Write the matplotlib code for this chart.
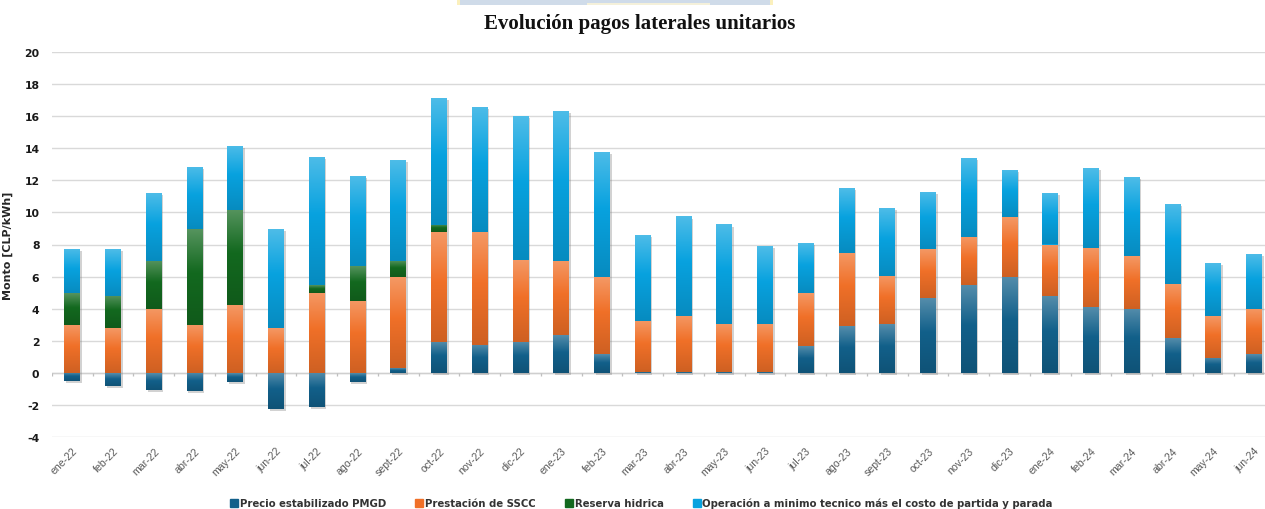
import numpy as np
import matplotlib
matplotlib.use("Agg")
import matplotlib.pyplot as plt
from matplotlib.colors import to_rgb
from matplotlib.patches import Rectangle
from matplotlib.lines import Line2D
import matplotlib.patheffects as pe

plt.rcParams["axes.unicode_minus"] = False

months = ["ene-22", "feb-22", "mar-22", "abr-22", "may-22", "jun-22", "jul-22",
          "ago-22", "sept-22", "oct-22", "nov-22", "dic-22", "ene-23", "feb-23",
          "mar-23", "abr-23", "may-23", "jun-23", "jul-23", "ago-23", "sept-23",
          "oct-23", "nov-23", "dic-23", "ene-24", "feb-24", "mar-24", "abr-24",
          "may-24", "jun-24"]

precio_pmgd = [-0.5, -0.8, -1.05, -1.15, -0.55, -2.25, -2.15, -0.55, 0.3, 1.95,
               1.75, 1.95, 2.35, 1.15, 0.05, 0.05, 0.05, 0.05, 1.65, 2.9,
               3.05, 4.65, 5.45, 6.0, 4.8, 4.1, 4.0, 2.15, 0.95, 1.15]
sscc = [3.0, 2.8, 4.0, 3.0, 4.2, 2.8, 5.0, 4.5, 5.65, 6.8,
        7.0, 5.1, 4.65, 4.8, 3.2, 3.5, 3.0, 3.0, 3.3, 4.6,
        3.0, 3.05, 3.0, 3.7, 3.2, 3.7, 3.3, 3.4, 2.6, 2.85]
reserva = [1.95, 2.0, 3.0, 5.95, 5.95, 0.0, 0.45, 2.15, 1.05, 0.47,
           0, 0, 0, 0, 0, 0, 0, 0, 0, 0,
           0, 0, 0, 0, 0, 0, 0, 0, 0, 0]
operacion = [2.75, 2.9, 4.2, 3.9, 4.0, 6.15, 8.0, 5.6, 6.25, 7.9,
             7.8, 8.95, 9.35, 7.8, 5.35, 6.2, 6.2, 4.85, 3.15, 4.0,
             4.2, 3.6, 4.95, 2.95, 3.2, 4.95, 4.9, 5.0, 3.3, 3.4]

series_names = ["Precio estabilizado PMGD", "Prestación de SSCC", "Reserva hidrica",
                "Operación a minimo tecnico más el costo de partida y parada"]
colors = ["#12608a", "#f07028", "#13691f", "#08a2df"]

W, H = 1265, 510
fig = plt.figure(figsize=(W / 100, H / 100), dpi=100)
fig.patch.set_facecolor("white")

ax = fig.add_axes([52 / W, 1 - 438 / H, (W - 52) / W, (438 - 53) / H])
x = np.arange(len(months))
bw = 0.39

def gradient_fill(bar, color):
    x0, y0 = bar.get_x(), bar.get_y()
    w, h = bar.get_width(), bar.get_height()
    if abs(h) < 1e-9:
        return
    base = np.array(to_rgb(color))
    dark = base * 0.86
    light = base + (1 - base) * 0.28
    t = np.linspace(0, 1, 80)[:, None]
    lower = dark + (base - dark) * (t / 0.55)
    upper = base + (light - base) * ((t - 0.55) / 0.45)
    grad = np.where(t < 0.55, lower, upper)
    img = np.repeat(grad[:, None, :], 2, axis=1)
    im = ax.imshow(img, extent=[x0, x0 + w, min(y0, y0 + h), max(y0, y0 + h)],
                   origin="lower", aspect="auto", interpolation="bilinear",
                   zorder=bar.get_zorder() + 0.1)
    im.set_clip_path(bar)

shadow = [pe.SimplePatchShadow(offset=(1.2, -1.5), shadow_rgbFace="#7f7f7f", alpha=0.35),
          pe.Normal()]

pm = np.array(precio_pmgd)
base_pos = np.maximum(pm, 0)
bottoms = [np.zeros(len(x)), base_pos,
           base_pos + np.array(sscc),
           base_pos + np.array(sscc) + np.array(reserva)]
values = [pm, np.array(sscc), np.array(reserva), np.array(operacion)]

for vals, bot, col in zip(values, bottoms, colors):
    bars = ax.bar(x, vals, bw, bottom=bot, color=col, zorder=3, linewidth=0)
    for b in bars:
        if abs(b.get_height()) > 1e-9:
            b.set_path_effects(shadow)
            gradient_fill(b, col)

ax.set_ylim(-4, 20)
ax.set_xlim(-0.5, (W - 72) / 40.76)
ax.set_yticks(np.arange(-4, 21, 2))
ax.yaxis.grid(True, color="#d9d9d9", linewidth=1.0, zorder=0)
ax.set_axisbelow(True)
for s in ax.spines.values():
    s.set_visible(False)

# category axis along zero with small boundary ticks
ax.axhline(0, color="#cfcfcf", linewidth=1.0, zorder=1)
ax.vlines(np.arange(len(months) + 1) - 0.5, -0.18, 0, color="#bfbfbf", linewidth=0.9, zorder=1)

ax.set_xticks(x)
ax.set_xticklabels(months, rotation=45, ha="right", rotation_mode="anchor",
                   fontsize=7.6, color="#595959", family=["Liberation Sans", "DejaVu Sans"])
ax.tick_params(axis="x", length=0, pad=6)
ax.tick_params(axis="y", length=0, pad=9)
for lab in ax.get_yticklabels():
    lab.set_fontweight("bold")
    lab.set_fontsize(7.8)
    lab.set_color("#1a1a1a")

ax.set_ylabel("Monto [CLP/kWh]", fontsize=8, fontweight="bold", color="#262626", labelpad=8)

fig.text(0.506, 1 - 24 / H, "Evolución pagos laterales unitarios", ha="center", va="center",
         fontsize=15, fontweight="bold", family=["Liberation Serif", "DejaVu Serif"], color="#111111")

# header strip at the top edge
fig.patches.append(Rectangle((460 / W, 1 - 6 / H), 310 / W, 6 / H, transform=fig.transFigure,
                             facecolor="#cfdbe9", edgecolor="none"))
fig.patches.append(Rectangle((457 / W, 1 - 6 / H), 3 / W, 6 / H, transform=fig.transFigure,
                             facecolor="#fbf0bd", edgecolor="none"))
fig.patches.append(Rectangle((770 / W, 1 - 6 / H), 3 / W, 6 / H, transform=fig.transFigure,
                             facecolor="#fbf0bd", edgecolor="none"))
fig.patches.append(Rectangle((587 / W, 1 - 6 / H), 123 / W, 2 / H, transform=fig.transFigure,
                             facecolor="#f4f0da", edgecolor="none"))

handles = [Line2D([0], [0], marker="s", linestyle="none", markersize=5.5,
                  markerfacecolor=c, markeredgecolor=c) for c in colors]
leg = fig.legend(handles, series_names, loc="center", bbox_to_anchor=(0.507, 1 - 504 / H),
                 ncol=4, frameon=False, handletextpad=0.15, columnspacing=2.9,
                 handlelength=0.8,
                 prop={"family": ["DejaVu Sans Condensed", "DejaVu Sans"],
                       "weight": "bold", "size": 7.3})
for t in leg.get_texts():
    t.set_color("#333333")

fig.savefig("out.png", dpi=100, facecolor="white")
